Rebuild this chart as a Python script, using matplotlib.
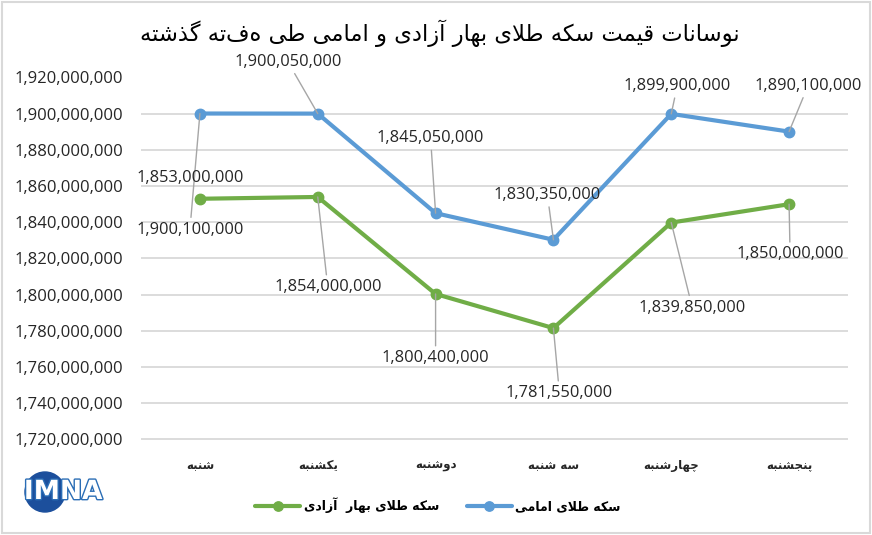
import matplotlib
matplotlib.use("Agg")
import matplotlib.pyplot as plt
import matplotlib.patheffects as pe
from matplotlib.patches import Rectangle, Circle
from matplotlib.ticker import FuncFormatter, MultipleLocator


TITLE = "نوسانات قیمت سکه طلای بهار آزادی و امامی طی هفته گذشته"
DAYS = ["شنبه", "یکشنبه", "دوشنبه", "سه شنبه", "چهارشنبه", "پنجشنبه"]

EMAMI_NAME = "سکه طلای امامی"
BAHAR_NAME = "سکه طلای بهار  آزادی"

EMAMI = [1900100000, 1900050000, 1845050000, 1830350000, 1899900000, 1890100000]
BAHAR = [1853000000, 1854000000, 1800400000, 1781550000, 1839850000, 1850000000]

# label offsets (pixels) from each point
EMAMI_OFFSETS = [(-10, -116), (-30, 52), (-5, 75), (-6, 45), (6, 28), (19, 46)]
BAHAR_OFFSETS = [(-10, 21), (10, -90), (0, -64), (6, -65), (21, -85), (1, -50)]

BLUE = "#5b9bd5"
GREEN = "#70ad47"
GRID = "#d9d9d9"
TEXT = "#262626"
NUM_FONT = ["Open Sans", "DejaVu Sans"]
FA_FONT = ["DejaVu Sans"]


# --- minimal Persian shaping (matplotlib has no shaping / RTL) ---
FORMS = {
    "ا": ("\uFE8D", "\uFE8E", None, None),
    "آ": ("\uFE81", "\uFE82", None, None),
    "ب": ("\uFE8F", "\uFE90", "\uFE91", "\uFE92"),
    "پ": ("\uFB56", "\uFB57", "\uFB58", "\uFB59"),
    "ت": ("\uFE95", "\uFE96", "\uFE97", "\uFE98"),
    "ج": ("\uFE9D", "\uFE9E", "\uFE9F", "\uFEA0"),
    "چ": ("\uFB7A", "\uFB7B", "\uFB7C", "\uFB7D"),
    "د": ("\uFEA9", "\uFEAA", None, None),
    "ذ": ("\uFEAB", "\uFEAC", None, None),
    "ر": ("\uFEAD", "\uFEAE", None, None),
    "ز": ("\uFEAF", "\uFEB0", None, None),
    "س": ("\uFEB1", "\uFEB2", "\uFEB3", "\uFEB4"),
    "ش": ("\uFEB5", "\uFEB6", "\uFEB7", "\uFEB8"),
    "ط": ("\uFEC1", "\uFEC2", "\uFEC3", "\uFEC4"),
    "ق": ("\uFED5", "\uFED6", "\uFED7", "\uFED8"),
    "ک": ("\uFB8E", "\uFB8F", "\uFB90", "\uFB91"),
    "گ": ("\uFB92", "\uFB93", "\uFB94", "\uFB95"),
    "ل": ("\uFEDD", "\uFEDE", "\uFEDF", "\uFEE0"),
    "م": ("\uFEE1", "\uFEE2", "\uFEE3", "\uFEE4"),
    "ن": ("\uFEE5", "\uFEE6", "\uFEE7", "\uFEE8"),
    "ه": ("\uFEE9", "\uFEEA", "\uFEEB", "\uFEEC"),
    "و": ("\uFEED", "\uFEEE", None, None),
    "ی": ("\uFBFC", "\uFBFD", "\uFBFE", "\uFBFF"),
    # lam-alef ligatures
    "لا": ("\uFEFB", "\uFEFC", None, None),
    "لآ": ("\uFEF5", "\uFEF6", None, None),
}


def fa(text):
    units = []
    i = 0
    while i < len(text):
        if text[i] == "ل" and i + 1 < len(text) and text[i + 1] in "اآ":
            units.append(text[i:i + 2])
            i += 2
        else:
            units.append(text[i])
            i += 1

    out = []
    for k, u in enumerate(units):
        if u not in FORMS:
            out.append(u)
            continue
        iso, fin, ini, med = FORMS[u]
        prev = units[k - 1] if k > 0 else None
        nxt = units[k + 1] if k + 1 < len(units) else None
        join_prev = prev in FORMS and FORMS[prev][2] is not None
        join_next = ini is not None and nxt in FORMS
        if join_prev and join_next:
            out.append(med)
        elif join_prev:
            out.append(fin)
        elif join_next:
            out.append(ini)
        else:
            out.append(iso)
    return "".join(out)[::-1]


fig = plt.figure(figsize=(8.72, 5.35), dpi=100)
ax = fig.add_axes([141 / 872, 1 - 439.5 / 535, 707 / 872, 362 / 535])

x = list(range(len(DAYS)))
ax.plot(x, BAHAR, color=GREEN, lw=3, marker="o", ms=7.5,
        solid_capstyle="round", label=fa(BAHAR_NAME), zorder=3)
ax.plot(x, EMAMI, color=BLUE, lw=3, marker="o", ms=7.5,
        solid_capstyle="round", label=fa(EMAMI_NAME), zorder=3)

ax.set_xlim(-0.5, len(DAYS) - 0.5)
ax.set_ylim(1720000000, 1920000000)
ax.yaxis.set_major_locator(MultipleLocator(20000000))
ax.yaxis.set_major_formatter(FuncFormatter(lambda v, p: f"{v:,.0f}"))
ax.grid(axis="y", color=GRID, lw=1.3)
ax.set_axisbelow(True)
for s in ax.spines.values():
    s.set_visible(False)
ax.tick_params(axis="y", length=0, pad=13, labelsize=12, labelcolor=TEXT)
ax.tick_params(axis="x", length=0, pad=14)
for lab in ax.get_yticklabels():
    lab.set_family(NUM_FONT)
ax.set_xticks(x)
ax.set_xticklabels([fa(d) for d in DAYS], family=FA_FONT, fontsize=8.5,
                   fontweight="bold", color=TEXT)


def add_labels(values, offsets, skip_leader=()):
    for i, (v, off) in enumerate(zip(values, offsets)):
        arrow = None
        if i not in skip_leader:
            arrow = dict(arrowstyle="-", color="#a6a6a6", lw=1,
                         shrinkA=1, shrinkB=0)
        ax.annotate(f"{v:,}", (i, v), xytext=off, textcoords="offset pixels",
                    ha="center", va="center", fontsize=11.8, color=TEXT,
                    family=NUM_FONT, arrowprops=arrow, zorder=4)


add_labels(EMAMI, EMAMI_OFFSETS)
add_labels(BAHAR, BAHAR_OFFSETS, skip_leader=(0,))

fig.text(440 / 872, 1 - 33 / 535, fa(TITLE), ha="center", va="center",
         family=FA_FONT, fontsize=16.3, color="black")

fig.legend(loc="center", bbox_to_anchor=(438 / 872, 1 - 505 / 535), ncol=2,
           frameon=False, prop=dict(family=FA_FONT, size=9, weight="bold"),
           handlelength=3.6, columnspacing=2.2, handletextpad=0.3,
           markerscale=0.9)

# outer chart border
fig.patches.append(Rectangle((2 / 872, 2 / 535), 868 / 872, 531 / 535,
                             transform=fig.transFigure, fill=False,
                             edgecolor=GRID, lw=1.5))

# IMNA logo
lax = fig.add_axes([18 / 872, 1 - 518 / 535, 90 / 872, 50 / 535])
lax.set_xlim(0, 90)
lax.set_ylim(0, 50)
lax.set_aspect("equal")
lax.axis("off")
lax.add_patch(Circle((27, 26), 20, color="#1c4f9c"))
lax.text(45, 26, "IMNA", ha="center", va="center", fontsize=19,
         fontweight="bold", color="white", family="DejaVu Sans",
         path_effects=[pe.withStroke(linewidth=2, foreground="#2a6db5")])

fig.savefig("out.png", dpi=100)
